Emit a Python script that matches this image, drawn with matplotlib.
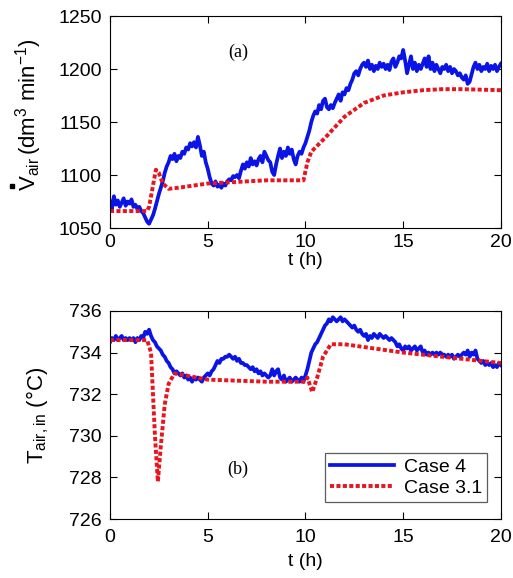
import numpy as np
import matplotlib
matplotlib.use('Agg')
import matplotlib.pyplot as plt
from matplotlib.lines import Line2D

plt.rcParams['font.family'] = ['Liberation Sans', 'DejaVu Sans']
plt.rcParams['mathtext.fontset'] = 'custom'
plt.rcParams['mathtext.rm'] = 'Liberation Sans'
plt.rcParams['mathtext.it'] = 'Liberation Sans:italic'

# time axis of the measured (noisy) series, 0.1 h steps
t_case4 = np.round(np.arange(0, 20.01, 0.1), 1)

# (a) air flow, Case 4
vair_case4 = [
    1075, 1068, 1080, 1072, 1076, 1070, 1074, 1078, 1071, 1075, 1073,
    1077, 1070, 1072, 1068, 1070, 1066, 1064, 1060, 1056, 1054,
    1058, 1062, 1068, 1075, 1082, 1088, 1094, 1102, 1108, 1112,
    1118, 1115, 1120, 1113, 1118, 1116, 1122, 1120, 1126, 1124,
    1130, 1127, 1131, 1126, 1136, 1128, 1118, 1122, 1112, 1106,
    1098, 1092, 1090, 1094, 1089, 1091, 1088, 1092, 1090, 1094,
    1096, 1095, 1099, 1098, 1100, 1097, 1104, 1110, 1106, 1112,
    1108, 1116, 1110, 1113, 1109, 1115, 1118, 1112, 1122, 1118,
    1114, 1112, 1103, 1100, 1110, 1118, 1125, 1116, 1122, 1118,
    1126, 1120, 1124, 1115, 1110, 1118, 1122, 1120, 1126, 1130,
    1136, 1142, 1150, 1156, 1160, 1158, 1166, 1162, 1170, 1172,
    1164, 1162, 1166, 1163, 1168, 1172, 1176, 1170, 1178, 1176,
    1182, 1180, 1186, 1190, 1196, 1198, 1194, 1200, 1204, 1206,
    1202, 1208, 1200, 1204, 1198, 1203, 1200, 1206, 1202, 1205,
    1200, 1204, 1199, 1207, 1210, 1202, 1206, 1212, 1210, 1218,
    1208, 1196, 1204, 1212, 1200, 1206, 1198, 1204, 1200, 1205,
    1210, 1202, 1212, 1200, 1206, 1198, 1204, 1200, 1196, 1202,
    1200, 1204, 1198, 1202, 1196, 1200, 1198, 1194, 1196, 1192,
    1190, 1194, 1186, 1188, 1195, 1202, 1206, 1200, 1204, 1198,
    1202, 1200, 1205, 1198, 1203, 1200, 1204, 1198, 1202, 1205,
]

# (a) air flow, Case 3.1 (model)
t_a31 = [0, 1.9, 2.0, 2.2, 2.35, 2.5, 2.7, 3.0, 3.5, 5, 6, 8, 9.9, 10.1, 10.3,
         11, 12, 13, 14, 15, 16, 17, 18, 20]
vair_case31 = [1066, 1066, 1070, 1090, 1105, 1102, 1092, 1087, 1088, 1092, 1093,
               1095, 1095, 1112, 1122, 1135, 1155, 1168, 1175, 1178, 1180, 1181,
               1181, 1180]

# (b) inlet air temperature, Case 4
tair_case4 = [
    734.5, 734.7, 734.6, 734.8, 734.6, 734.7, 734.8, 734.6, 734.7, 734.6, 734.7,
    734.6, 734.7, 734.5, 734.7, 734.6, 734.8, 734.7, 735.0, 734.9, 735.1,
    734.8, 734.6, 734.5, 734.3, 734.2, 734.1, 733.9, 733.8, 733.6, 733.5,
    733.3, 733.2, 733.0, 733.1, 733.0, 732.9, 733.0, 732.8, 732.9, 732.7,
    732.8, 732.6, 732.8, 732.7, 732.8, 732.7, 732.6, 732.8, 732.9, 733.0,
    732.9, 733.1, 733.2, 733.4, 733.6, 733.5, 733.7, 733.7, 733.8, 733.8,
    733.9, 733.8, 733.7, 733.8, 733.6, 733.7, 733.5, 733.5, 733.4, 733.4,
    733.3, 733.2, 733.3, 733.1, 733.2, 733.0, 733.1, 732.9, 733.0, 732.9,
    732.8, 732.9, 733.2, 732.9, 733.1, 733.2, 732.8, 732.7, 732.9, 732.6,
    732.7, 732.8, 732.6, 732.7, 732.8, 732.7, 732.6, 732.8, 732.6, 732.9,
    733.2, 733.6, 734.0, 734.2, 734.4, 734.5, 734.7, 734.9, 735.1, 735.3,
    735.4, 735.6, 735.5, 735.7, 735.6, 735.5, 735.6, 735.7, 735.5, 735.6,
    735.5, 735.4, 735.3, 735.2, 735.3, 735.1, 735.0, 735.1, 734.9, 734.8,
    734.9, 734.6, 734.8, 734.7, 734.9, 734.8, 734.7, 734.9, 734.8, 734.7,
    734.8, 734.7, 734.6, 734.7, 734.6, 734.5, 734.3, 734.4, 734.2, 734.1,
    734.3, 734.2, 734.3, 734.1, 734.2, 734.3, 734.1, 734.2, 734.3, 734.0,
    734.1, 733.9, 734.0, 733.9, 734.0, 733.9, 734.0, 733.9, 734.0, 733.9,
    733.9, 733.8, 733.9, 733.8, 733.9, 733.7, 733.8, 733.9, 733.8, 733.9,
    734.0, 733.9, 734.1, 733.8, 734.0, 733.9, 734.1, 733.7, 733.6, 733.5,
    733.6, 733.4, 733.5, 733.4, 733.5, 733.3, 733.4, 733.3, 733.5, 733.4,
]

# (b) inlet air temperature, Case 3.1
t_b31 = [0, 1.9, 2.1, 2.2, 2.3, 2.45, 2.6, 2.8, 3.0, 3.3, 5, 8, 10.0, 10.1,
         10.35, 10.6, 10.9, 11.3, 12, 15, 17, 20]
tair_case31 = [734.6, 734.6, 734.0, 732.0, 730.0, 727.8, 729.5, 731.5, 732.5,
               733.0, 732.7, 732.6, 732.6, 732.8, 732.1, 732.8, 733.8, 734.4,
               734.4, 734.0, 733.8, 733.5]

blue = '#0a14e6'
red = '#e8141e'
dash = (0, (1.05, 0.6))

fig = plt.figure(figsize=(5.13, 5.78), dpi=100)
ax1 = fig.add_axes([0.2144, 0.6055, 0.762, 0.3668])
ax2 = fig.add_axes([0.2144, 0.102, 0.762, 0.36])

ax1.plot(t_case4, vair_case4, color=blue, lw=2.7, label='Case 4')
ax1.plot(t_a31, vair_case31, color=red, lw=2.8, ls=dash, label='Case 3.1')
ax1.set_xlim(0, 20)
ax1.set_ylim(1050, 1250)
ax1.set_xticks([0, 5, 10, 15, 20])
ax1.set_yticks([1050, 1100, 1150, 1200, 1250])
ax1.set_xlabel('t (h)', fontsize=14, labelpad=1)
ax1.set_ylabel(r'$\mathrm{V}_{\mathrm{air}}\,(\mathrm{dm}^3\ \mathrm{min}^{-1})$',
               fontsize=16)
ax1.yaxis.set_label_coords(-0.168, 0.533)
# the flow-rate dot over the V (drawn as a small square mark, not text)
fig.add_artist(Line2D([12 / 513], [1 - 186 / 578], marker='s', ms=3.0,
                      color='black', lw=0, transform=fig.transFigure))
ax1.text(6.55, 1216, '(a)', family='Liberation Serif', fontsize=13,
         ha='center', va='center')

ax2.plot(t_case4, tair_case4, color=blue, lw=2.7, label='Case 4')
ax2.plot(t_b31, tair_case31, color=red, lw=2.8, ls=dash, label='Case 3.1')
ax2.set_xlim(0, 20)
ax2.set_ylim(726, 736)
ax2.set_xticks([0, 5, 10, 15, 20])
ax2.set_yticks([726, 728, 730, 732, 734, 736])
ax2.set_xlabel('t (h)', fontsize=14, labelpad=5)
ax2.set_ylabel(r'$\mathrm{T}_{\mathrm{air,in}}\ (\mathrm{°C})$', fontsize=16, labelpad=13)
ax2.text(6.55, 728.4, '(b)', family='Liberation Serif', fontsize=13,
         ha='center', va='center')
leg = ax2.legend(loc='lower right', fontsize=14, frameon=True, fancybox=False,
                 handlelength=3.3, handletextpad=0.5, borderpad=0.25,
                 labelspacing=0.2, bbox_to_anchor=(0.99, 0.035))
leg.get_frame().set_edgecolor('#333333')
leg.get_frame().set_linewidth(0.9)

for ax in (ax1, ax2):
    ax.tick_params(direction='in', top=True, right=True, labelsize=14,
                   length=5, width=0.8)
    ax.tick_params(axis='y', pad=6)
    for s in ax.spines.values():
        s.set_linewidth(0.8)
ax1.tick_params(axis='x', pad=4)
ax2.tick_params(axis='x', pad=7)

fig.savefig('out.png', dpi=100)
